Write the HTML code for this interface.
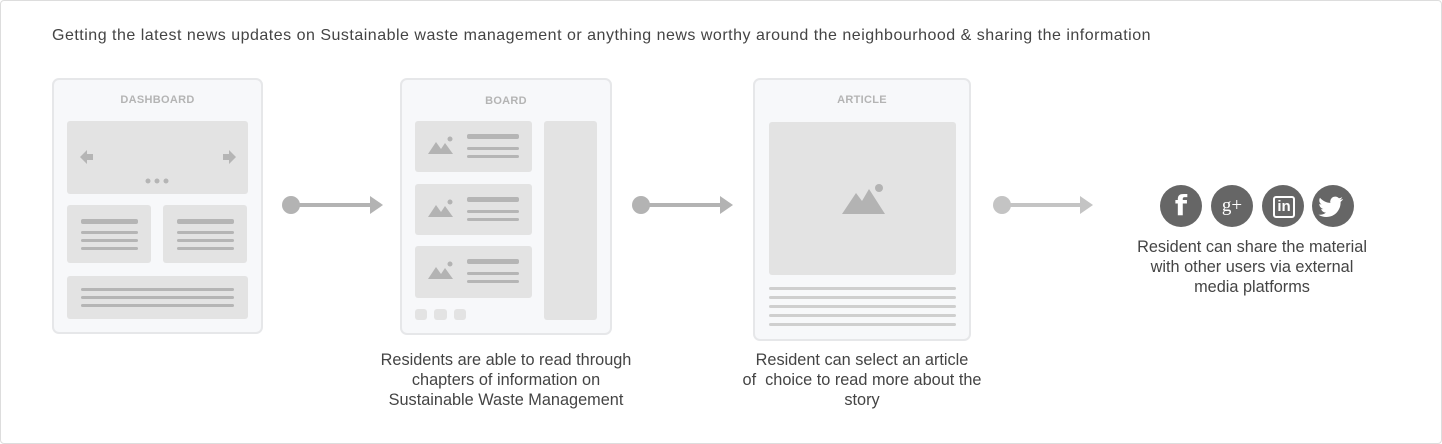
<!DOCTYPE html>
<html><head><meta charset="utf-8"><style>
body{margin:0;width:1442px;height:444px;background:#fff;font-family:"Liberation Sans",sans-serif;position:relative;overflow:hidden}
.a{position:absolute}
.frame{position:absolute;left:0;top:0;width:1440px;height:442px;border:1px solid #ddd;border-radius:4px}
.card{position:absolute;background:#f7f8fa;border:2px solid #e6e7e9;border-radius:7px;box-sizing:border-box}
.lbl{position:absolute;left:0;right:0;text-align:center;font-size:11px;font-weight:bold;color:#b4b4b4;letter-spacing:.3px}
.g{position:absolute;background:#e3e3e3;border-radius:3px}
.l{position:absolute;background:#b5b5b5;border-radius:2px}
.txt{position:absolute;text-align:center;font-size:16.3px;color:#444;line-height:20px}
.sc{position:absolute;width:42px;height:42px;border-radius:50%;background:#666;color:#fff;text-align:center;line-height:42px;font-weight:bold}
</style></head><body>
<div class="frame"></div>
<div class="a" style="left:52px;top:27px;font-size:16px;letter-spacing:0.5px;color:#444;white-space:nowrap">Getting the latest news updates on Sustainable waste management or anything news worthy around the neighbourhood &amp; sharing the information</div>

<!-- Dashboard -->
<div class="card" style="left:52px;top:78px;width:211px;height:256px"><div class="lbl" style="top:14px">DASHBOARD</div></div>
<div class="g" style="left:67px;top:121px;width:181px;height:73px"></div>
<svg class="a" style="left:78px;top:149px" width="165" height="40"><path d="M2 8 L9 1 V5 H15 V11 H9 V15 Z" fill="#b5b5b5"/><path d="M158 8 L151 1 V5 H145 V11 H151 V15 Z" fill="#b5b5b5"/><circle cx="70" cy="32" r="2.5" fill="#b5b5b5"/><circle cx="79" cy="32" r="2.5" fill="#b5b5b5"/><circle cx="88" cy="32" r="2.5" fill="#b5b5b5"/></svg>
<div class="g" style="left:67px;top:205px;width:84px;height:58px"></div>
<div class="g" style="left:163px;top:205px;width:84px;height:58px"></div>
<div class="l" style="left:81px;top:219px;width:57px;height:5px"></div>
<div class="l" style="left:81px;top:231px;width:57px;height:3px"></div>
<div class="l" style="left:81px;top:239px;width:57px;height:3px"></div>
<div class="l" style="left:81px;top:247px;width:57px;height:3px"></div>
<div class="l" style="left:177px;top:219px;width:57px;height:5px"></div>
<div class="l" style="left:177px;top:231px;width:57px;height:3px"></div>
<div class="l" style="left:177px;top:239px;width:57px;height:3px"></div>
<div class="l" style="left:177px;top:247px;width:57px;height:3px"></div>
<div class="g" style="left:67px;top:276px;width:181px;height:43px"></div>
<div class="l" style="left:81px;top:288px;width:153px;height:3px"></div>
<div class="l" style="left:81px;top:296px;width:153px;height:3px"></div>
<div class="l" style="left:81px;top:304px;width:153px;height:3px"></div>

<!-- arrows -->
<svg class="a" style="left:0;top:0" width="1442" height="444">
<g fill="#b3b3b3" stroke="#b3b3b3">
<circle cx="291" cy="205" r="9" stroke="none"/><line x1="291" y1="205" x2="372" y2="205" stroke-width="4"/><path d="M370 196 L383 205 L370 214 Z" stroke="none"/>
<circle cx="641" cy="205" r="9" stroke="none"/><line x1="641" y1="205" x2="722" y2="205" stroke-width="4"/><path d="M720 196 L733 205 L720 214 Z" stroke="none"/>
</g>
<g fill="#c4c4c4" stroke="#c4c4c4">
<circle cx="1002" cy="205" r="9" stroke="none"/><line x1="1002" y1="205" x2="1082" y2="205" stroke-width="4"/><path d="M1080 196 L1093 205 L1080 214 Z" stroke="none"/>
</g>
</svg>

<!-- Board -->
<div class="card" style="left:400px;top:78px;width:212px;height:257px"><div class="lbl" style="top:15px">BOARD</div></div>
<div class="g" style="left:415px;top:121px;width:117px;height:51px"></div>
<div class="g" style="left:415px;top:184px;width:117px;height:51px"></div>
<div class="g" style="left:415px;top:246px;width:117px;height:52px"></div>
<div class="g" style="left:544px;top:121px;width:53px;height:199px"></div>
<svg class="a" style="left:0;top:0" width="1442" height="444" fill="#b3b3b3">
<g><path d="M428 154 L436 142 L441 149 L445 143 L453 154 Z"/><circle cx="450" cy="139" r="2.5"/></g>
<g transform="translate(0,63)"><path d="M428 154 L436 142 L441 149 L445 143 L453 154 Z"/><circle cx="450" cy="139" r="2.5"/></g>
<g transform="translate(0,125)"><path d="M428 154 L436 142 L441 149 L445 143 L453 154 Z"/><circle cx="450" cy="139" r="2.5"/></g>
</svg>
<div class="l" style="left:467px;top:134px;width:52px;height:5px"></div>
<div class="l" style="left:467px;top:147px;width:52px;height:3px"></div>
<div class="l" style="left:467px;top:155px;width:52px;height:3px"></div>
<div class="l" style="left:467px;top:197px;width:52px;height:5px"></div>
<div class="l" style="left:467px;top:210px;width:52px;height:3px"></div>
<div class="l" style="left:467px;top:218px;width:52px;height:3px"></div>
<div class="l" style="left:467px;top:259px;width:52px;height:5px"></div>
<div class="l" style="left:467px;top:272px;width:52px;height:3px"></div>
<div class="l" style="left:467px;top:280px;width:52px;height:3px"></div>
<div class="g" style="left:415px;top:309px;width:12px;height:11px"></div>
<div class="g" style="left:434px;top:309px;width:13px;height:11px"></div>
<div class="g" style="left:454px;top:309px;width:12px;height:11px"></div>
<div class="txt" style="left:346px;top:350px;width:320px">Residents are able to read through<br>chapters of information on<br>Sustainable Waste Management</div>

<!-- Article -->
<div class="card" style="left:753px;top:78px;width:218px;height:263px"><div class="lbl" style="top:14px">ARTICLE</div></div>
<div class="g" style="left:769px;top:122px;width:187px;height:153px"></div>
<svg class="a" style="left:0;top:0" width="1442" height="444" fill="#b3b3b3"><path d="M842 214 L856 193 L862 201 L869 189 L885 214 Z"/><circle cx="879" cy="188" r="4"/></svg>
<div class="l" style="left:769px;top:287px;width:187px;height:3px;background:#cfcfcf"></div>
<div class="l" style="left:769px;top:296px;width:187px;height:3px;background:#cfcfcf"></div>
<div class="l" style="left:769px;top:305px;width:187px;height:3px;background:#cfcfcf"></div>
<div class="l" style="left:769px;top:314px;width:187px;height:3px;background:#cfcfcf"></div>
<div class="l" style="left:769px;top:323px;width:187px;height:3px;background:#cfcfcf"></div>
<div class="txt" style="left:702px;top:350px;width:320px">Resident can select an article<br>of&nbsp; choice to read more about the<br>story</div>

<!-- social -->
<div class="sc" style="left:1160px;top:185px;font-size:28px;font-family:'DejaVu Sans',sans-serif">f</div>
<div class="sc" style="left:1211px;top:185px;font-size:19px;font-weight:normal;font-family:'Liberation Serif',serif">g+</div>
<div class="sc" style="left:1262px;top:185px"><div style="position:absolute;left:11px;top:11px;width:18px;height:18px;border:2px solid #fff;border-radius:3px;line-height:18px;font-size:15px">in</div></div>
<div class="sc" style="left:1312px;top:185px"><svg width="42" height="42" viewBox="0 0 42 42"><path d="M31 14c-1 .5-2 .7-3 .8 1-.6 1.8-1.6 2.2-2.7-1 .6-2.1 1-3.2 1.2a5 5 0 0 0-8.6 4.6c-4.2-.2-7.9-2.2-10.4-5.2-1.4 2.4-.6 5.3 1.6 6.8-.8 0-1.6-.3-2.3-.6 0 2.5 1.7 4.6 4.100 5.1-.8.2-1.6.2-2.3.1.7 2 2.6 3.500 4.8 3.500a10 10 0 0 1-7.400 2.100c2.200 1.400 4.900 2.300 7.700 2.300 9.300 0 14.400-7.700 14.400-14.400v-.7c1-.7 1.800-1.600 2.400-2.600z" fill="#fff"/></svg></div>
<div class="txt" style="left:1092px;top:237px;width:320px">Resident can share the material<br>with other users via external<br>media platforms</div>
</body></html>
